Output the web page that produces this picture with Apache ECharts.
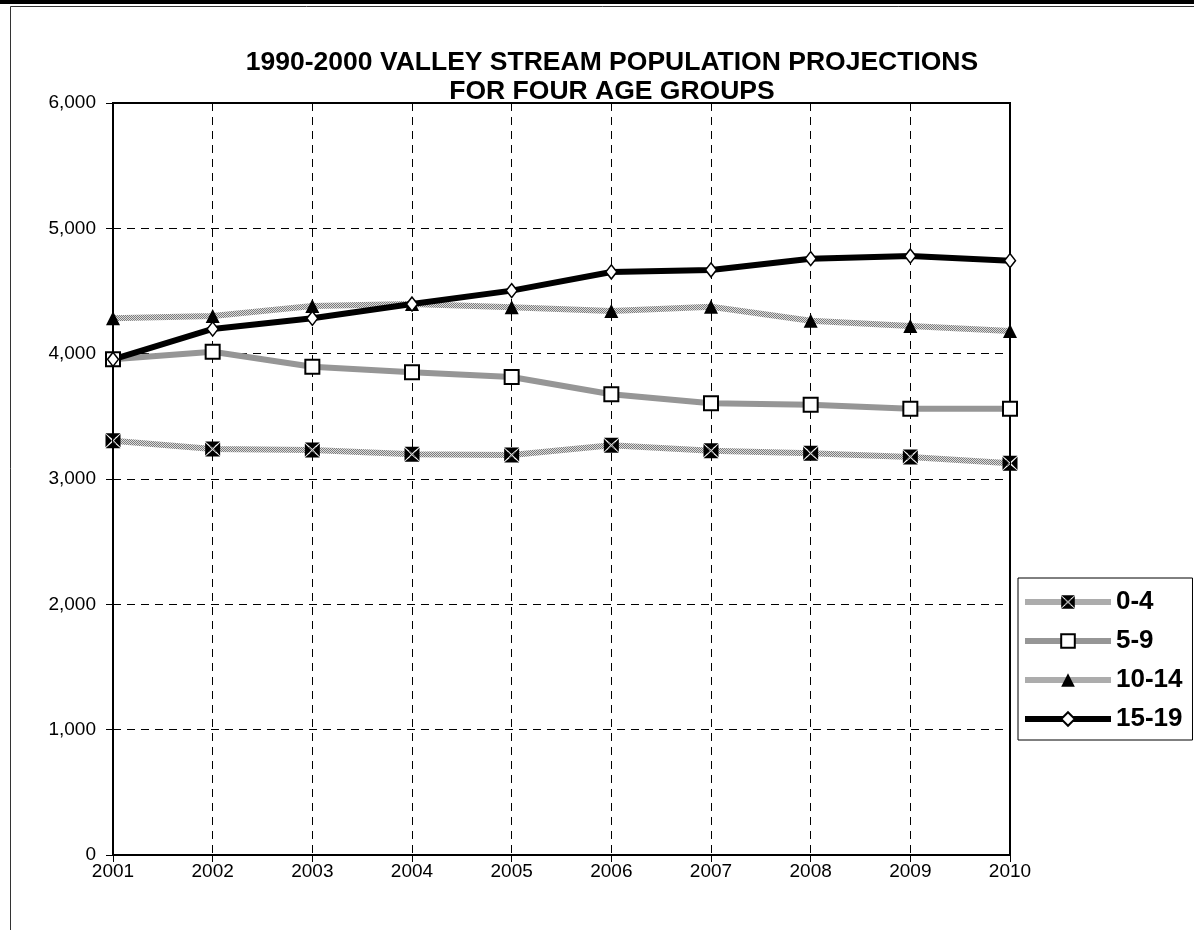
<!DOCTYPE html>
<html>
<head>
<meta charset="utf-8">
<script src="https://cdn.jsdelivr.net/npm/echarts@6/dist/echarts.min.js"></script>
<style>
  html, body { margin: 0; padding: 0; background: #fff; }
  #chart { width: 1194px; height: 930px; }
</style>
</head>
<body>
<div id="chart"></div>
<script>
const years = ['2001','2002','2003','2004','2005','2006','2007','2008','2009','2010'];
const age0to4   = [3306, 3239, 3231, 3197, 3192, 3269, 3226, 3205, 3176, 3125];
const age5to9   = [3955, 4016, 3896, 3851, 3814, 3676, 3604, 3593, 3561, 3561];
const age10to14 = [4282, 4300, 4380, 4396, 4370, 4340, 4375, 4263, 4221, 4181];
const age15to19 = [3955, 4197, 4282, 4396, 4503, 4652, 4668, 4758, 4779, 4742];
const seriesNames = ['0-4', '5-9', '10-14', '15-19'];

const FONT = 'Liberation Sans, Arial, sans-serif';

// stippled grey texture for the dotted series lines
function stipple() {
  const c = document.createElement('canvas');
  c.width = 2; c.height = 2;
  const g = c.getContext('2d');
  g.fillStyle = '#dcdcdc'; g.fillRect(0, 0, 2, 2);
  g.fillStyle = '#7c7c7c';
  g.fillRect(0, 0, 1, 1); g.fillRect(1, 1, 1, 1);
  return { image: c, repeat: 'repeat' };
}

// black square split by a white cross
const xBox = 'path://M0,0L10,0L5,4.2ZM0,10L10,10L5,5.8ZM0,0.6L0,9.4L4.2,5ZM10,0.6L10,9.4L5.8,5Z';

const chart = echarts.init(document.getElementById('chart'), null, { renderer: 'canvas' });
chart.setOption({
  animation: false,
  backgroundColor: '#ffffff',
  title: {
    text: '1990-2000 VALLEY STREAM POPULATION PROJECTIONS\nFOR FOUR AGE GROUPS',
    left: 607, top: 43, textAlign: 'center',
    textStyle: { fontFamily: FONT, fontSize: 26.5, fontWeight: 'bold', color: '#000', lineHeight: 29 }
  },
  graphic: [
    { type: 'rect', shape: { x: 0, y: 0, width: 1194, height: 4 }, style: { fill: '#000' } },
    { type: 'polyline', shape: { points: [[10.5, 935], [10.5, 6.5], [1200, 6.5]] }, style: { stroke: '#333', lineWidth: 1, fill: null } }
  ],
  legend: {
    left: 1018, top: 578,
    orient: 'vertical',
    padding: [11, 10, 8, 4],
    itemGap: 13,
    itemWidth: 86, itemHeight: 17,
    backgroundColor: '#fff',
    borderColor: '#000', borderWidth: 1,
    lineStyle: { width: 6 },
    textStyle: { fontFamily: FONT, fontSize: 26, fontWeight: 'bold', color: '#000', lineHeight: 26 },
    data: seriesNames
  },
  grid: {
    left: 113, right: 184, top: 103, bottom: 75,
    show: true, borderColor: '#000', borderWidth: 2
  },
  xAxis: {
    type: 'category', data: years, boundaryGap: false,
    axisLine: { lineStyle: { color: '#000', width: 2 } },
    axisTick: { show: true, length: 7, lineStyle: { color: '#000' } },
    axisLabel: { fontFamily: FONT, fontSize: 19, color: '#000', margin: 7 },
    splitLine: { show: true, lineStyle: { color: '#000', type: [8, 6], width: 1 } }
  },
  yAxis: {
    type: 'value', min: 0, max: 6000, interval: 1000,
    axisLine: { show: true, lineStyle: { color: '#000', width: 2 } },
    axisTick: { show: true, length: 7, lineStyle: { color: '#000' } },
    axisLabel: {
      fontFamily: FONT, fontSize: 19, color: '#000', margin: 17,
      formatter: v => v.toLocaleString('en-US')
    },
    splitLine: { show: true, lineStyle: { color: '#000', type: [8, 6], width: 1 } }
  },
  series: [
    {
      name: '0-4', type: 'line', data: age0to4,
      lineStyle: { color: stipple(), width: 6 },
      symbol: xBox, symbolSize: 15,
      itemStyle: { color: '#000', borderWidth: 0 }
    },
    {
      name: '5-9', type: 'line', data: age5to9,
      lineStyle: { color: '#969696', width: 6 },
      symbol: 'rect', symbolSize: 14,
      itemStyle: { color: '#fff', borderColor: '#000', borderWidth: 2 }
    },
    {
      name: '10-14', type: 'line', data: age10to14,
      lineStyle: { color: stipple(), width: 6 },
      symbol: 'triangle', symbolSize: 14,
      itemStyle: { color: '#000', borderWidth: 0 }
    },
    {
      name: '15-19', type: 'line', data: age15to19,
      lineStyle: { color: '#000', width: 6 },
      symbol: 'diamond', symbolSize: [11, 14],
      itemStyle: { color: '#fff', borderColor: '#000', borderWidth: 1.5 }
    }
  ]
});
</script>
</body>
</html>
